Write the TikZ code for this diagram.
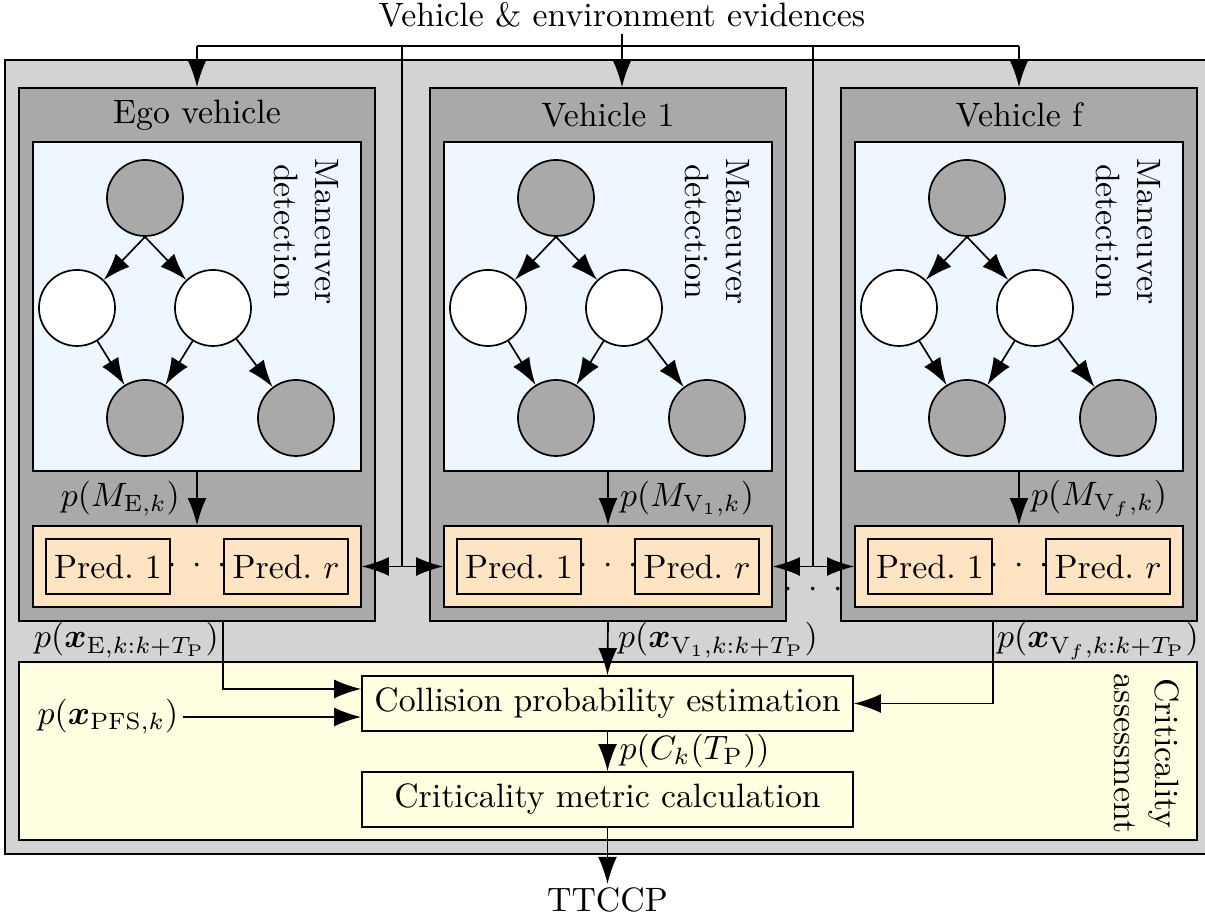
\documentclass[tikz,border=0pt]{standalone}
\usepackage{amsmath}
\usetikzlibrary{arrows.meta,fit}
\definecolor{outergray}{HTML}{D3D3D3}
\definecolor{vehgray}{HTML}{A9A9A9}
\definecolor{mdblue}{HTML}{EEF6FE}
\definecolor{predorange}{HTML}{FFE4C4}
\definecolor{crityellow}{HTML}{FFFEE0}
\newcommand{\wdots}{$\cdotp\kern2.9pt\cdotp\kern2.9pt\cdotp$}
\begin{document}
\begin{tikzpicture}[x=0.2959pt,y=-0.2959pt, line width=0.5pt,
  area/.style={draw, inner sep=0pt, rectangle},
  arr/.style={-{Latex[length=8pt,width=5.6pt]}},
  bn/.style={circle, draw, minimum size=22.5pt, inner sep=0pt},
  obs/.style={bn, fill=vehgray},
  hid/.style={bn, fill=white},
  predbox/.style={draw, minimum width=36.7pt, minimum height=16.3pt, inner sep=0pt},
  procbox/.style={draw, fill=crityellow, minimum width=145.3pt, minimum height=16.3pt, inner sep=0pt},
  rotlbl/.style={rotate=-90, anchor=north west, align=center, inner sep=0pt}
]
\useasboundingbox (0,0) rectangle (1205,919);
\clip (0,0) rectangle (1205,919);
% outer area
\node[area, fill=outergray, fit={(5,60) (1230,854)}] (outer) {};
% vehicles
\foreach \o/\n/\t in {0/E/Ego vehicle, 411/A/Vehicle 1, 822/F/Vehicle f} {
  \node[area, fill=vehgray, fit={(19+\o,88) (375+\o,621)}] (veh\n) {};
  \node (title\n) at (197+\o,115) {\t};
  \node[area, fill=mdblue, fit={(33+\o,142) (361+\o,471)}] (md\n) {};
  \node[rotlbl] (mdl\n) at (339+\o,158) {Maneuver\\detection};
  \node[obs] (bA\n) at (145+\o,198) {};
  \node[hid] (bB\n) at (77+\o,308) {};
  \node[hid] (bC\n) at (213+\o,308) {};
  \node[obs] (bD\n) at (145+\o,418) {};
  \node[obs] (bE\n) at (296+\o,418) {};
  \draw[arr] (bA\n.south) -- (bB\n);
  \draw[arr] (bA\n.south) -- (bC\n);
  \draw[arr] (bB\n) -- (bD\n);
  \draw[arr] (bC\n) -- (bD\n);
  \draw[arr] (bC\n) -- (bE\n);
  \node[area, fill=predorange, fit={(33+\o,526) (361+\o,607)}] (pr\n) {};
  \node[predbox] (pa\n) at (108+\o,566.5) {Pred.~1};
  \node[predbox] (pb\n) at (286+\o,566.5) {Pred.~$r$};
  \node[inner sep=0pt] (pd\n) at (197+\o,566.5) {\wdots};
}
% criticality assessment
\node[area, fill=crityellow, fit={(19,662) (1197,840)}] (crit) {};
\node[rotlbl] (critl) at (1180,673) {Criticality\\assessment};
\node[procbox] (coll) at (607.5,703.5) {Collision probability estimation};
\node[procbox] (cm) at (607.5,799.5) {Criticality metric calculation};
\node[anchor=base, inner sep=1pt] (ttccp) at (607.5,912) {TTCCP};
% evidences
\node[anchor=base, inner sep=1.5pt] (ev) at (622,27) {Vehicle \& environment evidences};
\coordinate (t1) at (197,46);
\coordinate (t2) at (1019,46);
\coordinate (u1) at (402,46);
\coordinate (u2) at (813,46);
\coordinate (j1) at (402,566.5);
\coordinate (j2) at (813,566.5);
\draw (t1) -- (t2);
\draw[arr] (t1) -- (vehE.north);
\draw[arr] (t2) -- (vehF.north);
\draw[arr] (ev.south) -- (ev.south |- vehA.north);
\draw (u1) -- (j1);
\draw (u2) -- (j2);
\draw[arr] (j1) -- (prE.east);
\draw[arr] (j1) -- (prA.west);
\draw[arr] (j2) -- (prA.east);
\draw[arr] (j2) -- (prF.west);
\node[inner sep=0pt] (vdots) at (813,590) {\wdots};
% maneuver probabilities
\draw[arr] (mdE.south) -- (prE.north) node[midway, left, xshift=-1.5pt] {$p(M_{\mathrm{E},k})$};
\draw[arr] (mdA.south) -- (prA.north) node[midway, right] {$p(M_{\mathrm{V}_1,k})$};
\draw[arr] (mdF.south) -- (prF.north) node[midway, right] {$p(M_{\mathrm{V}_f,k})$};
% trajectory predictions
\draw[arr] (pbE.west |- vehE.south) |- ([yshift=4.3pt]coll.west);
\node[anchor=base east, inner sep=1pt] (lxE) at (223,648) {$p(\boldsymbol{x}_{\mathrm{E},k:k+T_\mathrm{P}})$};
\draw[arr] (vehA.south) -- (coll.north);
\node[anchor=base west, inner sep=1pt] (lxA) at (614,648) {$p(\boldsymbol{x}_{\mathrm{V}_1,k:k+T_\mathrm{P}})$};
\draw[arr] (paF.east |- vehF.south) |- (coll.east);
\node[anchor=base west, inner sep=1pt] (lxF) at (993,648) {$p(\boldsymbol{x}_{\mathrm{V}_f,k:k+T_\mathrm{P}})$};
\node[inner sep=1pt] (pfs) at (108,717) {$p(\boldsymbol{x}_{\mathrm{PFS},k})$};
\draw[arr] (pfs.east) -- (pfs.east -| coll.west);
\draw[arr] (coll.south) -- (cm.north) node[midway, right] {$p(C_k(T_\mathrm{P}))$};
\draw[arr] (cm.south) -- (ttccp.north);
\end{tikzpicture}
\end{document}
